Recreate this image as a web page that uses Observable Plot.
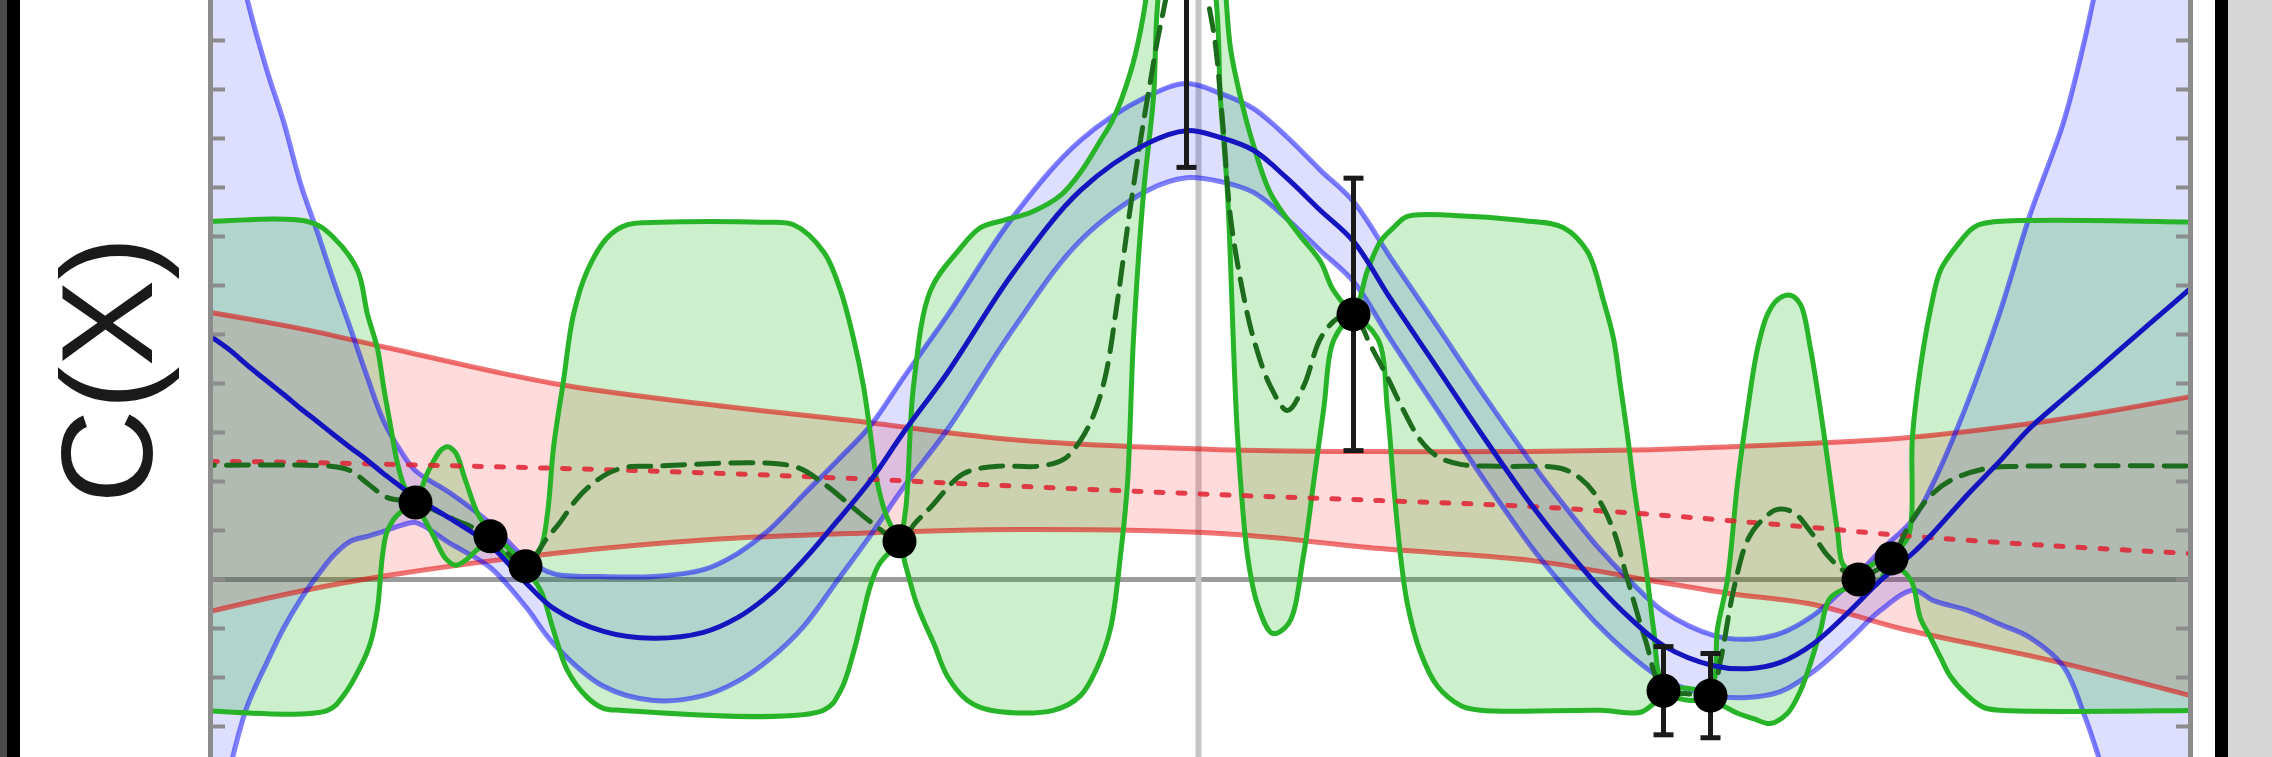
<!DOCTYPE html>
<html>
<head>
<meta charset="utf-8">
<script src="https://cdn.jsdelivr.net/npm/d3@7"></script>
<script src="https://cdn.jsdelivr.net/npm/@observablehq/plot@0.6"></script>
<style>
html, body { margin: 0; padding: 0; width: 2272px; height: 757px; overflow: hidden; background: #fff; }
.edge { position: absolute; top: 0; height: 757px; }
#chart { position: absolute; left: 20px; top: 0; }
</style>
</head>
<body>
<div class="edge" style="left:0;width:7px;background:#4a4a4a"></div>
<div class="edge" style="left:7px;width:13px;background:#000"></div>
<div class="edge" style="left:2215px;width:13px;background:#000"></div>
<div class="edge" style="left:2228px;width:44px;background:#d6d6d6"></div>
<div id="chart"></div>
<script>
// ---- axis extents & ticks ----
const xDomain = [-9.88, 9.92];
const yDomain = [-3.633, 11.816];
const yTicks = [-3, -2, -1, 0, 1, 2, 3, 4, 5, 6, 7, 8, 9, 10, 11];
const yLabel = "C(X)";

// ---- observations ----
const ptX   = [-7.83, -7.08, -6.73, -2.99, -0.12, 1.55, 4.65, 5.12, 6.60, 6.93];
const ptY   = [1.57, 0.88, 0.27, 0.78, 12.43, 5.41, -2.27, -2.37, 0.00, 0.43];
const ptErr = [0.2, 0.2, 0.2, 0.2, 4.02, 2.78, 0.90, 0.86, 0.2, 0.2];

// ---- blue model: mean and band ----
const blueX = [-9.88, -9.68, -9.51, -9.31, -9.15, -8.98, -8.81, -8.65, -8.48, -8.31, -8.15, -7.98, -7.83, -7.48, -7.08, -6.73, -6.45, -5.95, -5.45, -4.95, -4.61, -4.28, -3.95, -3.61, -3.28, -2.95, -2.51, -1.85, -1.18, -0.51, -0.12, 0.22, 0.55, 0.89, 1.22, 1.55, 1.92, 2.39, 2.82, 3.32, 3.65, 3.99, 4.32, 4.65, 5.15, 5.49, 5.82, 6.15, 6.49, 6.82, 7.15, 7.35, 7.69, 8.02, 8.31, 8.65, 8.86, 8.99, 9.32, 9.62, 9.92];
const blueMean = [4.96, 4.67, 4.37, 4.04, 3.78, 3.49, 3.22, 2.96, 2.69, 2.43, 2.16, 1.90, 1.67, 1.24, 0.69, -0.06, -0.59, -1.06, -1.20, -1.08, -0.78, -0.29, 0.39, 1.20, 2.02, 3.00, 4.22, 6.27, 7.94, 8.90, 9.16, 9.02, 8.76, 8.18, 7.53, 6.90, 5.73, 4.31, 3.00, 1.55, 0.69, -0.12, -0.80, -1.35, -1.76, -1.82, -1.69, -1.31, -0.69, -0.02, 0.55, 0.96, 1.73, 2.43, 3.08, 3.69, 4.06, 4.29, 4.88, 5.41, 5.94];
const blueHi = [15.29, 13.45, 11.82, 10.35, 9.35, 8.08, 7.08, 6.10, 5.12, 4.12, 3.24, 2.63, 2.22, 1.76, 1.14, 0.43, 0.12, 0.06, 0.06, 0.20, 0.53, 1.04, 1.73, 2.43, 3.14, 4.12, 5.39, 7.41, 8.96, 9.86, 10.12, 9.92, 9.61, 9.02, 8.35, 7.71, 6.57, 5.16, 3.86, 2.41, 1.53, 0.67, -0.04, -0.65, -1.14, -1.22, -1.10, -0.73, -0.12, 0.59, 1.24, 1.98, 3.61, 5.49, 7.41, 9.33, 11.00, 12.24, 15.49, 18.88, 22.27];
const blueLo = [-5.53, -3.80, -2.57, -1.67, -1.00, -0.41, 0.08, 0.49, 0.78, 0.88, 0.98, 1.10, 1.16, 0.73, 0.24, -0.55, -1.31, -2.18, -2.47, -2.37, -2.08, -1.61, -0.96, -0.02, 0.90, 1.88, 3.06, 5.12, 6.92, 7.94, 8.20, 8.12, 7.90, 7.35, 6.71, 6.08, 4.90, 3.45, 2.14, 0.69, -0.14, -0.92, -1.55, -2.04, -2.37, -2.41, -2.29, -1.88, -1.27, -0.63, -0.22, -0.43, -0.63, -0.92, -1.18, -1.78, -2.78, -3.55, -5.73, -8.06, -10.39];

// ---- red model: mean and band ----
const redX    = [-9.88, -8.98, -8.11, -6.45, -4.98, -3.45, -1.78, 0.22, 1.82, 3.32, 4.52, 5.32, 6.15, 7.02, 8.52, 9.92];
const redMean = [2.41, 2.39, 2.35, 2.27, 2.18, 2.06, 1.90, 1.73, 1.61, 1.49, 1.33, 1.20, 1.06, 0.90, 0.69, 0.53];
const redHi   = [5.45, 5.12, 4.73, 4.00, 3.59, 3.24, 2.84, 2.65, 2.61, 2.61, 2.65, 2.71, 2.78, 2.88, 3.24, 3.73];
const redLo   = [-0.65, -0.24, 0.08, 0.53, 0.80, 0.94, 1.02, 0.94, 0.63, 0.39, -0.02, -0.29, -0.51, -1.00, -1.65, -2.37];

// ---- green model: band edges and mean (x, y); flat prior continues past both edges ----
const greenUpper = [[-10.4,7.29],[-10.1,7.29],[-8.88,7.29],[-8.65,6.98],[-8.41,6.31],[-8.31,5.41],[-8.21,4.71],[-8.15,3.94],[-8.08,3.14],[-8.01,2.37],[-7.93,1.86],[-7.83,1.67],[-7.70,2.22],[-7.58,2.63],[-7.51,2.71],[-7.43,2.59],[-7.33,2.02],[-7.20,1.31],[-7.08,0.96],[-6.93,0.69],[-6.78,0.43],[-6.71,0.39],[-6.58,0.65],[-6.51,1.35],[-6.45,2.69],[-6.35,4.06],[-6.25,5.41],[-6.11,6.31],[-5.91,6.98],[-5.71,7.24],[-5.38,7.29],[-4.38,7.29],[-4.05,7.24],[-3.75,6.69],[-3.58,5.90],[-3.45,4.92],[-3.35,3.94],[-3.28,2.96],[-3.21,1.96],[-3.10,1.20],[-2.99,0.88],[-2.93,1.41],[-2.85,3.94],[-2.68,5.90],[-2.41,6.69],[-2.18,7.18],[-1.95,7.33],[-1.68,7.49],[-1.38,7.84],[-1.18,8.31],[-0.98,8.96],[-0.85,9.41],[-0.68,10.35],[-0.58,11.20],[-0.50,12.22],[-0.38,14.88],[-0.12,16.92],[0.17,14.88],[0.27,12.02],[0.32,10.84],[0.42,9.84],[0.55,8.86],[0.72,7.88],[0.99,7.08],[1.22,6.49],[1.35,5.90],[1.55,5.49],[1.69,6.31],[1.82,6.90],[1.95,7.18],[2.09,7.41],[2.55,7.43],[3.22,7.33],[3.65,7.18],[3.89,6.69],[4.05,5.69],[4.15,4.92],[4.22,3.94],[4.29,2.94],[4.35,1.96],[4.42,0.98],[4.49,0.00],[4.55,-1.00],[4.65,-2.12],[4.89,-2.22],[5.12,-2.22],[5.19,-1.00],[5.29,0.00],[5.39,1.96],[5.49,3.45],[5.59,4.71],[5.69,5.41],[5.79,5.71],[5.92,5.80],[6.02,5.61],[6.12,4.71],[6.22,3.45],[6.29,2.45],[6.39,0.98],[6.45,0.29],[6.60,0.14],[6.77,0.35],[6.93,0.53],[7.09,0.84],[7.14,2.94],[7.22,4.33],[7.32,5.51],[7.42,6.31],[7.58,6.80],[7.75,7.18],[7.92,7.29],[10.1,7.29],[10.4,7.29]];
const greenLower = [[-10.4,-2.67],[-10.1,-2.67],[-8.71,-2.67],[-8.55,-2.37],[-8.38,-1.78],[-8.28,-1.29],[-8.21,-0.59],[-8.16,0.49],[-8.11,1.00],[-7.98,1.37],[-7.83,1.45],[-7.68,1.00],[-7.53,0.43],[-7.43,0.29],[-7.33,0.39],[-7.20,0.63],[-7.08,0.76],[-6.93,0.49],[-6.78,0.18],[-6.71,0.12],[-6.58,-0.22],[-6.45,-1.04],[-6.31,-1.86],[-6.11,-2.41],[-5.95,-2.63],[-5.78,-2.67],[-3.75,-2.67],[-3.58,-2.27],[-3.45,-1.49],[-3.35,-0.67],[-3.28,-0.12],[-3.18,0.35],[-2.99,0.67],[-2.93,0.29],[-2.83,-0.43],[-2.75,-0.84],[-2.65,-1.29],[-2.51,-1.98],[-2.31,-2.47],[-2.08,-2.67],[-1.45,-2.67],[-1.18,-2.37],[-1.01,-1.78],[-0.88,-1.00],[-0.78,0.49],[-0.71,1.96],[-0.65,4.92],[-0.55,7.88],[-0.45,9.84],[-0.38,12.22],[-0.12,13.86],[0.15,12.22],[0.22,9.78],[0.29,7.88],[0.39,2.94],[0.49,0.49],[0.59,-0.51],[0.74,-1.10],[0.90,-0.90],[1.05,0.49],[1.15,1.96],[1.25,3.45],[1.36,4.92],[1.55,5.33],[1.79,4.92],[1.89,3.45],[1.95,1.96],[2.02,0.49],[2.09,-0.51],[2.22,-1.49],[2.39,-2.18],[2.62,-2.57],[2.82,-2.67],[4.02,-2.67],[4.42,-2.71],[4.65,-2.41],[4.92,-2.47],[5.12,-2.47],[5.39,-2.73],[5.55,-2.84],[5.72,-2.94],[5.89,-2.73],[6.02,-2.27],[6.12,-1.71],[6.22,-1.04],[6.32,-0.37],[6.60,-0.12],[6.77,-0.12],[6.93,0.29],[7.12,0.00],[7.22,-0.80],[7.32,-1.18],[7.42,-1.59],[7.52,-1.98],[7.69,-2.37],[7.85,-2.61],[8.02,-2.67],[10.1,-2.67],[10.4,-2.67]];
const greenMean = [[-10.4,2.31],[-8.68,2.31],[-8.48,2.22],[-8.31,1.96],[-8.11,1.67],[-7.83,1.57],[-7.46,1.24],[-7.08,0.88],[-6.73,0.27],[-6.53,0.80],[-6.38,1.18],[-6.23,1.61],[-6.08,1.92],[-5.91,2.16],[-5.73,2.29],[-5.48,2.31],[-4.05,2.31],[-3.75,1.96],[-3.48,1.51],[-3.23,1.10],[-2.99,0.78],[-2.83,1.16],[-2.68,1.47],[-2.35,2.16],[-2.01,2.31],[-1.61,2.31],[-1.35,2.45],[-1.18,2.84],[-1.05,3.35],[-0.93,4.16],[-0.81,5.69],[-0.70,7.33],[-0.58,8.96],[-0.48,10.18],[-0.38,11.31],[-0.26,12.22],[-0.12,12.43],[0.02,12.22],[0.14,11.31],[0.24,9.37],[0.32,7.39],[0.44,5.90],[0.55,4.92],[0.72,3.94],[0.89,3.45],[1.05,3.94],[1.22,4.92],[1.39,5.33],[1.55,5.41],[1.72,4.78],[1.89,4.12],[2.05,3.45],[2.22,2.84],[2.39,2.51],[2.62,2.35],[3.02,2.31],[3.62,2.27],[3.82,2.06],[3.99,1.67],[4.15,1.00],[4.29,0.00],[4.47,-1.24],[4.65,-2.27],[4.89,-2.33],[5.12,-2.37],[5.22,-1.65],[5.35,-0.22],[5.49,0.80],[5.62,1.18],[5.79,1.43],[5.95,1.37],[6.12,0.98],[6.29,0.49],[6.45,0.18],[6.60,0.00],[6.77,0.18],[6.93,0.43],[7.12,1.16],[7.32,1.71],[7.52,2.02],[7.89,2.27],[8.22,2.31],[10.4,2.31]];

// ---- tables built from the arrays ----
const blue = blueX.map((x, i) => ({x, mean: blueMean[i], hi: blueHi[i], lo: blueLo[i]}));
const red = redX.map((x, i) => ({x, mean: redMean[i], hi: redHi[i], lo: redLo[i]}));
const gU = greenUpper.map(([x, y]) => ({x, y}));
const gL = greenLower.map(([x, y]) => ({x, y}));
const gPoly = gU.concat(gL.slice().reverse());
const gM = greenMean.map(([x, y]) => ({x, y}));
const pts = ptX.map((x, i) => ({x, y: ptY[i], lo: ptY[i] - ptErr[i], hi: ptY[i] + ptErr[i]}));

const capSymbol = {
  draw(context, size) {
    const r = Math.sqrt(size / Math.PI);
    context.moveTo(-r, 0);
    context.lineTo(r, 0);
  }
};

const curve = "catmull-rom";
const LW = 5;

const chart = Plot.plot({
  width: 2195,
  height: 757,
  marginLeft: 190,
  marginRight: 25,
  marginTop: 0,
  marginBottom: 0,
  style: {background: "transparent", overflow: "visible"},
  x: {domain: xDomain, axis: null},
  y: {domain: yDomain, axis: null, label: null},
  marks: [
    Plot.ruleY([0], {stroke: "#9c9c9c", strokeWidth: 5}),
    Plot.ruleX([0], {stroke: "#c6c6c6", strokeWidth: 6}),

    Plot.areaY(red, {x: "x", y1: "lo", y2: "hi", fill: "#ff0000", fillOpacity: 0.14, curve, clip: true}),
    Plot.areaY(blue, {x: "x", y1: "lo", y2: "hi", fill: "#0000ff", fillOpacity: 0.13, curve, clip: true}),
    Plot.line(gPoly, {x: "x", y: "y", fill: "#00b000", fillOpacity: 0.2, stroke: "none", curve, clip: true}),

    Plot.line(red, {x: "x", y: "hi", stroke: "#e00000", strokeOpacity: 0.55, strokeWidth: LW, curve, clip: true}),
    Plot.line(red, {x: "x", y: "lo", stroke: "#e00000", strokeOpacity: 0.55, strokeWidth: LW, curve, clip: true}),
    Plot.line(blue, {x: "x", y: "hi", stroke: "#0000ff", strokeOpacity: 0.5, strokeWidth: LW, curve, clip: true}),
    Plot.line(blue, {x: "x", y: "lo", stroke: "#0000ff", strokeOpacity: 0.5, strokeWidth: LW, curve, clip: true}),
    Plot.line(gU, {x: "x", y: "y", stroke: "#28b428", strokeWidth: LW, curve, clip: true}),
    Plot.line(gL, {x: "x", y: "y", stroke: "#28b428", strokeWidth: LW, curve, clip: true}),

    Plot.line(red, {x: "x", y: "mean", stroke: "#e02030", strokeOpacity: 0.85, strokeWidth: LW, strokeDasharray: "7,15", curve, clip: true}),
    Plot.line(gM, {x: "x", y: "y", stroke: "#1d6b1d", strokeWidth: LW, strokeDasharray: "22,12", curve, clip: true}),
    Plot.line(blue, {x: "x", y: "mean", stroke: "#1515c0", strokeWidth: LW, curve, clip: true}),

    Plot.ruleX(pts, {x: "x", y1: "lo", y2: "hi", stroke: "#1a1a1a", strokeWidth: 5, clip: true}),
    Plot.dot(pts, {x: "x", y: "lo", symbol: capSymbol, r: 10, stroke: "#1a1a1a", strokeWidth: 5, fill: "none", clip: true}),
    Plot.dot(pts, {x: "x", y: "hi", symbol: capSymbol, r: 10, stroke: "#1a1a1a", strokeWidth: 5, fill: "none", clip: true}),
    Plot.dot(pts, {x: "x", y: "y", r: 17, fill: "#000", stroke: "none", clip: true}),

    Plot.ruleX(xDomain, {stroke: "#8c8c8c", strokeWidth: 5}),
    Plot.axisY(yTicks, {anchor: "left", tickSize: -15, tickFormat: () => "", stroke: "#8c8c8c", strokeWidth: 4, label: null}),
    Plot.axisY(yTicks, {anchor: "right", tickSize: -15, tickFormat: () => "", stroke: "#8c8c8c", strokeWidth: 4, label: null}),

    Plot.text([yLabel], {frameAnchor: "left", dx: -100, dy: -9, rotate: -90, fontSize: 130, fontFamily: "Liberation Sans, Arial, sans-serif", fill: "#1a1a1a", lineAnchor: "middle", textAnchor: "middle"})
  ]
});
document.getElementById("chart").appendChild(chart);
</script>
</body>
</html>
